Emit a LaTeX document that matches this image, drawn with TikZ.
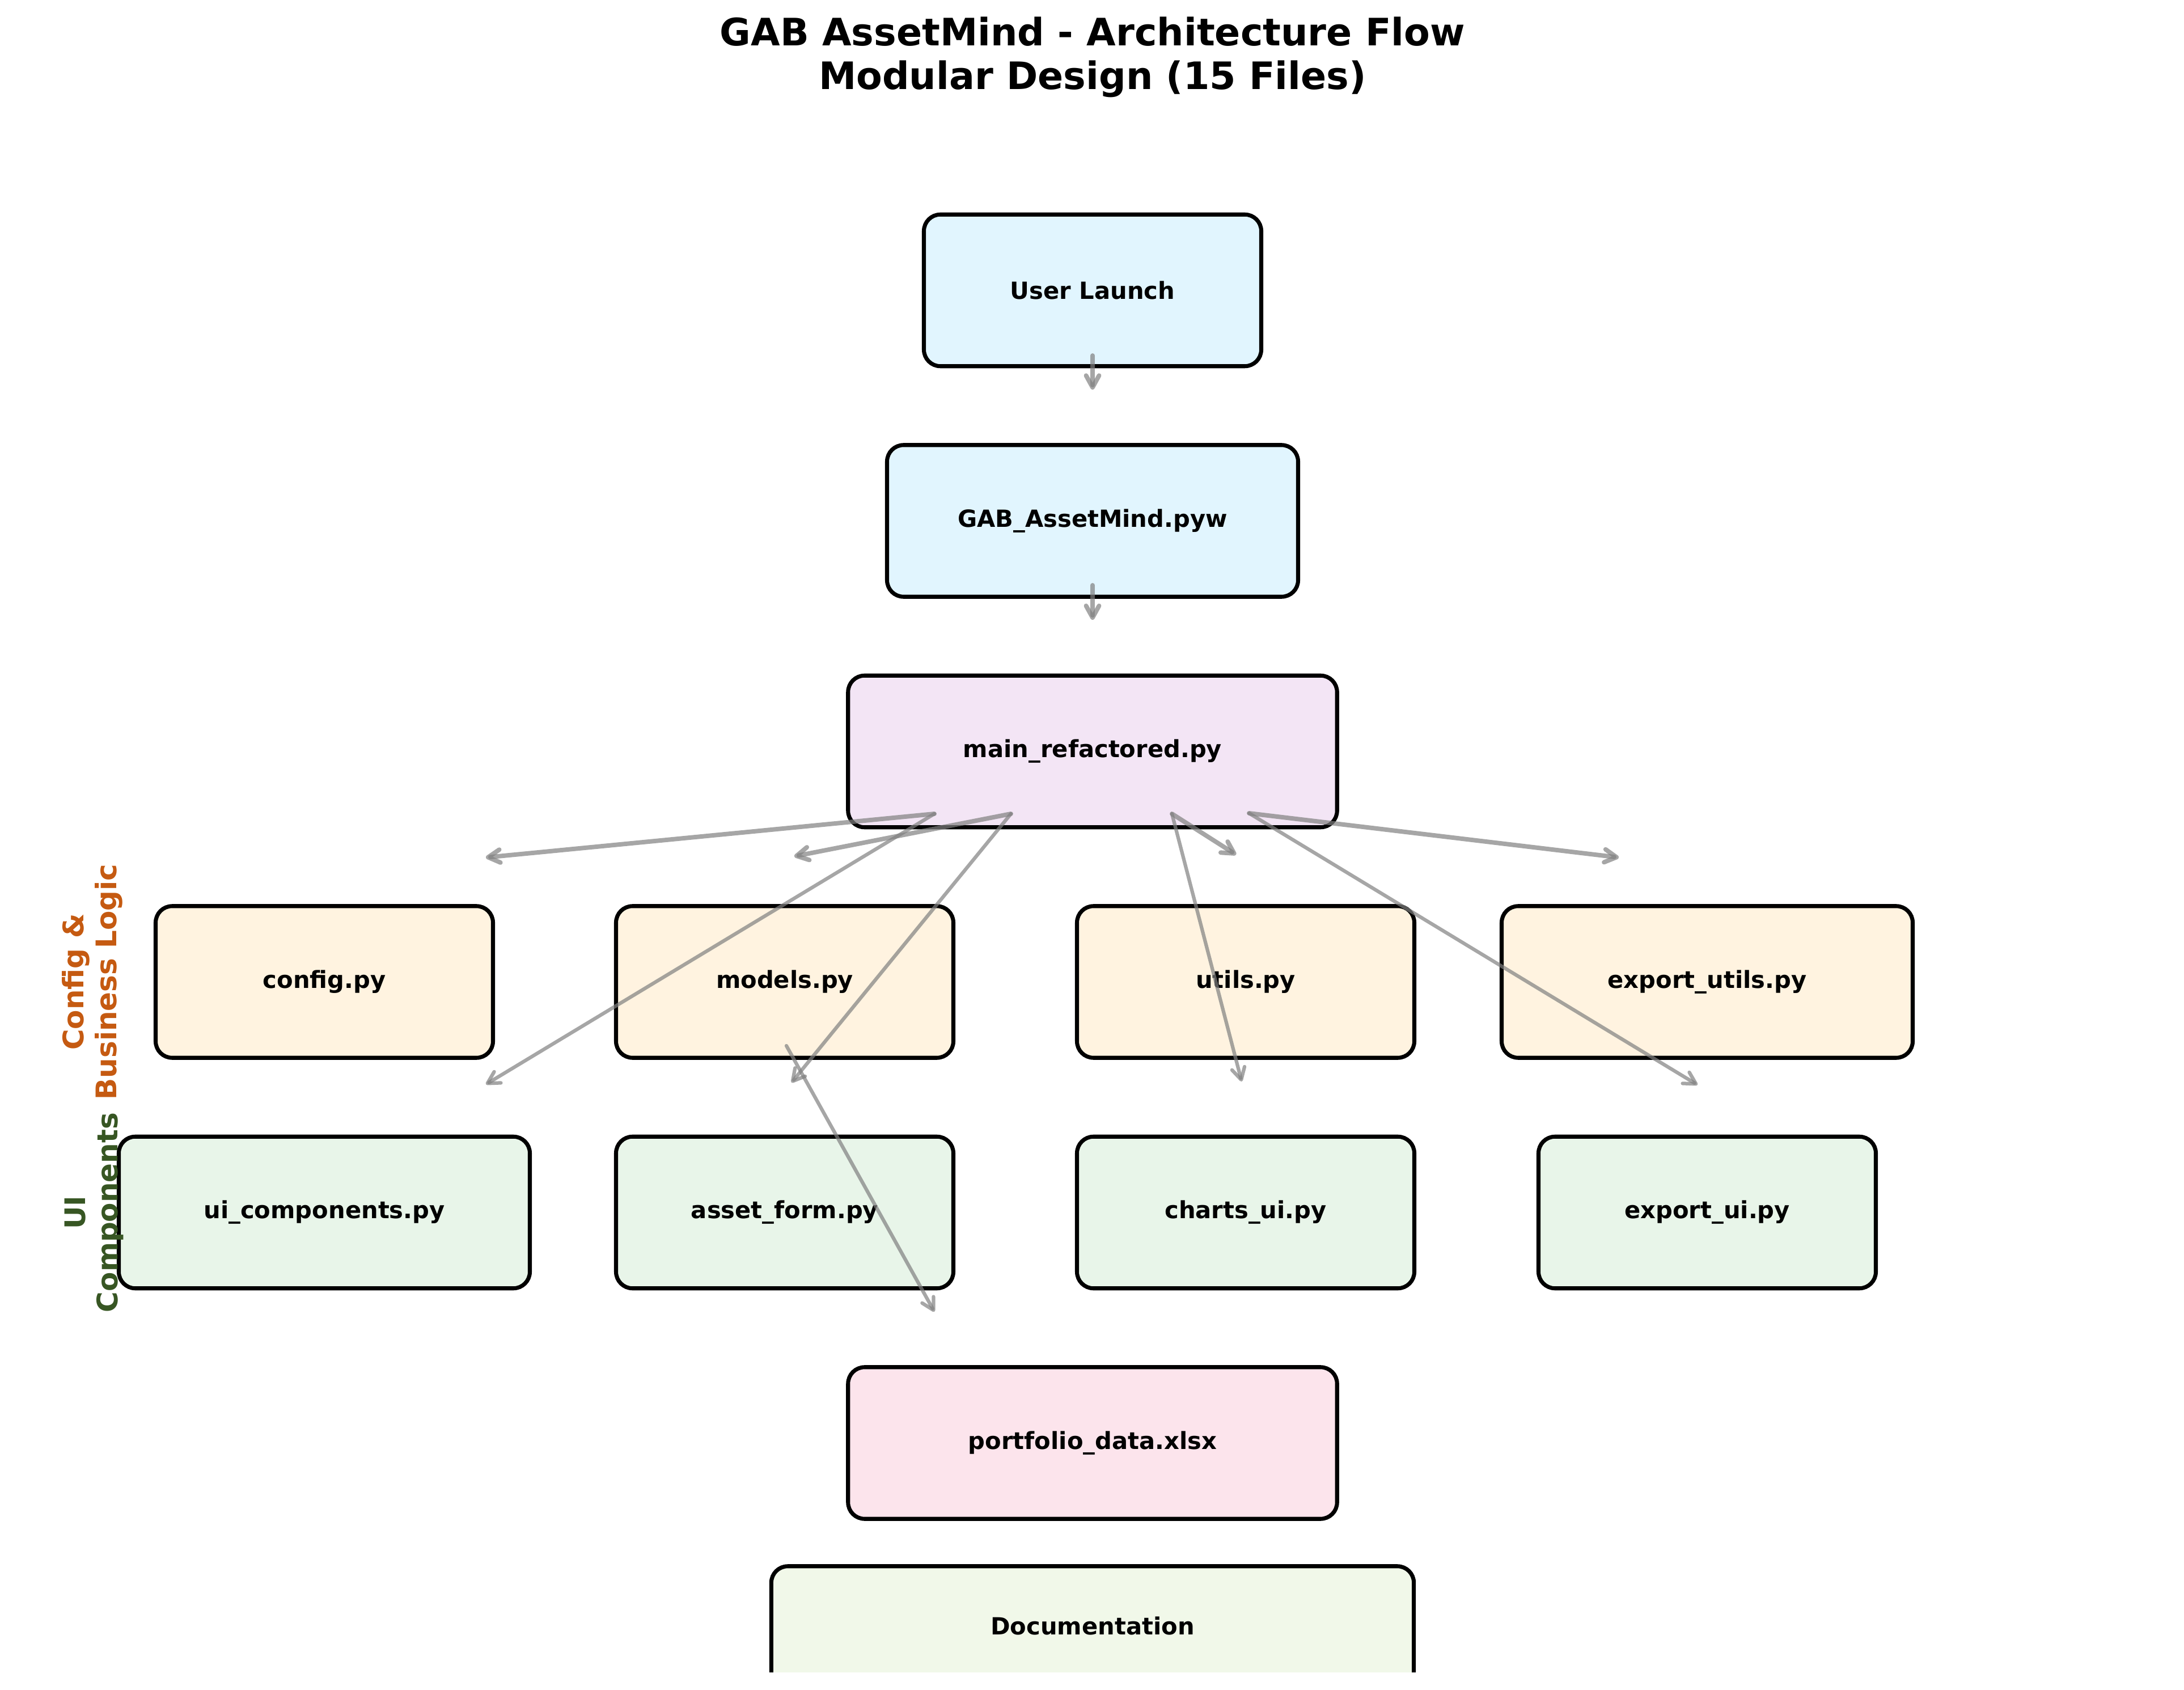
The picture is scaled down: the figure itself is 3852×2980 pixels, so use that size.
\documentclass[tikz,border=0pt]{standalone}
\usepackage{fontspec}
\setmainfont{DejaVu Sans}
\usetikzlibrary{arrows.meta}
\definecolor{cLaunch}{HTML}{E1F5FE}
\definecolor{cMain}{HTML}{F3E5F5}
\definecolor{cCfg}{HTML}{FFF3E0}
\definecolor{cUI}{HTML}{E8F5E9}
\definecolor{cData}{HTML}{FCE4EC}
\definecolor{cDoc}{HTML}{F1F8E9}
\definecolor{cOrange}{HTML}{C55A11}
\definecolor{cGreen}{HTML}{375623}
\definecolor{cArrow}{HTML}{808080}
\begin{document}
\begin{tikzpicture}[x=0.24pt,y=-0.24pt,
  box/.style={draw=black, line width=1.7pt, rounded corners=7pt, inner sep=0pt,
    minimum height=64.2pt, font=\bfseries\fontsize{10}{12}\selectfont},
  wS/.style={minimum width=142.8pt},
  wM/.style={minimum width=174pt},
  wL/.style={minimum width=207pt},
  wXL/.style={minimum width=272pt},
  titletext/.style={font=\bfseries\fontsize{16}{18.4}\selectfont, inner sep=0pt, anchor=base},
  sidelabel/.style={rotate=90, align=center, inner sep=0pt, font=\bfseries\fontsize{12}{13.8}\selectfont},
  flowbase/.style={draw=cArrow, draw opacity=0.7, line cap=round,
    -{Straight Barb[length=5pt,width=5.5pt,round]}},
  flowA/.style={flowbase, line width=1.9pt},
  flowB/.style={flowbase, line width=1.5pt}
]
\useasboundingbox (0,0) rectangle (3852,2980);

% title
\node[titletext] (t1) at (1927,81) {GAB AssetMind - Architecture Flow};
\node[titletext] (t2) at (1927,158) {Modular Design (15 Files)};

% boxes
\node[box,wS,fill=cLaunch] (launch) at (1927,512) {User Launch};
\node[box,wM,fill=cLaunch] (gab) at (1927,918.5) {GAB\_AssetMind.pyw};
\node[box,wL,fill=cMain] (main) at (1927,1325) {main\_refactored.py};
\node[box,wS,fill=cCfg] (config) at (572,1731.5) {config.py};
\node[box,wS,fill=cCfg] (models) at (1384,1731.5) {models.py};
\node[box,wS,fill=cCfg] (utils) at (2197,1731.5) {utils.py};
\node[box,wM,fill=cCfg] (exportutils) at (3011,1731.5) {export\_utils.py};
\node[box,wM,fill=cUI] (uicomp) at (572,2138) {ui\_components.py};
\node[box,wS,fill=cUI] (assetform) at (1384,2138) {asset\_form.py};
\node[box,wS,fill=cUI] (charts) at (2197,2138) {charts\_ui.py};
\node[box,wS,fill=cUI] (exportui) at (3011,2138) {export\_ui.py};
\node[box,wL,fill=cData] (data) at (1927,2544.5) {portfolio\_data.xlsx};
\begin{scope}
  \clip (0,0) rectangle (3852,2948);
  \node[box,wXL,fill=cDoc] (doc) at (1927,2895.5) {};
\end{scope}
\node[font=\bfseries\fontsize{10}{12}\selectfont, inner sep=0pt] (doclabel) at (1927,2867) {Documentation};

% side labels
\node[sidelabel, text=cOrange] (lblcfg) at (163,1731.5) {Config \&\\Business Logic};
\node[sidelabel, text=cGreen] (lblui) at (166,2138) {UI\\Components};

% arrow end points
\coordinate (launchOut) at (1927,627);
\coordinate (gabIn) at (1927,687);
\coordinate (gabOut) at (1927,1032);
\coordinate (mainIn) at (1927,1093);
\coordinate (s1) at (1648,1435);
\coordinate (s2) at (1783,1435);
\coordinate (s3) at (2067,1435);
\coordinate (s4) at (2203,1434);
\coordinate (r1a) at (857,1512);
\coordinate (r1b) at (1401,1510);
\coordinate (r1c) at (2180,1507);
\coordinate (r1d) at (2855,1512);
\coordinate (r2a) at (857,1912);
\coordinate (r2b) at (1396,1909);
\coordinate (r2c) at (2190,1907);
\coordinate (r2d) at (2994,1913);
\coordinate (mOut) at (1387,1844);
\coordinate (dataIn) at (1648,2313);

% connectors
\draw[flowA] (launchOut) -- (gabIn);
\draw[flowA] (gabOut) -- (mainIn);
\draw[flowA] (s1) -- (r1a);
\draw[flowA] (s2) -- (r1b);
\draw[flowA] (s3) -- (r1c);
\draw[flowA] (s4) -- (r1d);
\draw[flowB] (s1) -- (r2a);
\draw[flowB] (s2) -- (r2b);
\draw[flowB] (s3) -- (r2c);
\draw[flowB] (s4) -- (r2d);
\draw[flowB] (mOut) -- (dataIn);
\end{tikzpicture}
\end{document}
